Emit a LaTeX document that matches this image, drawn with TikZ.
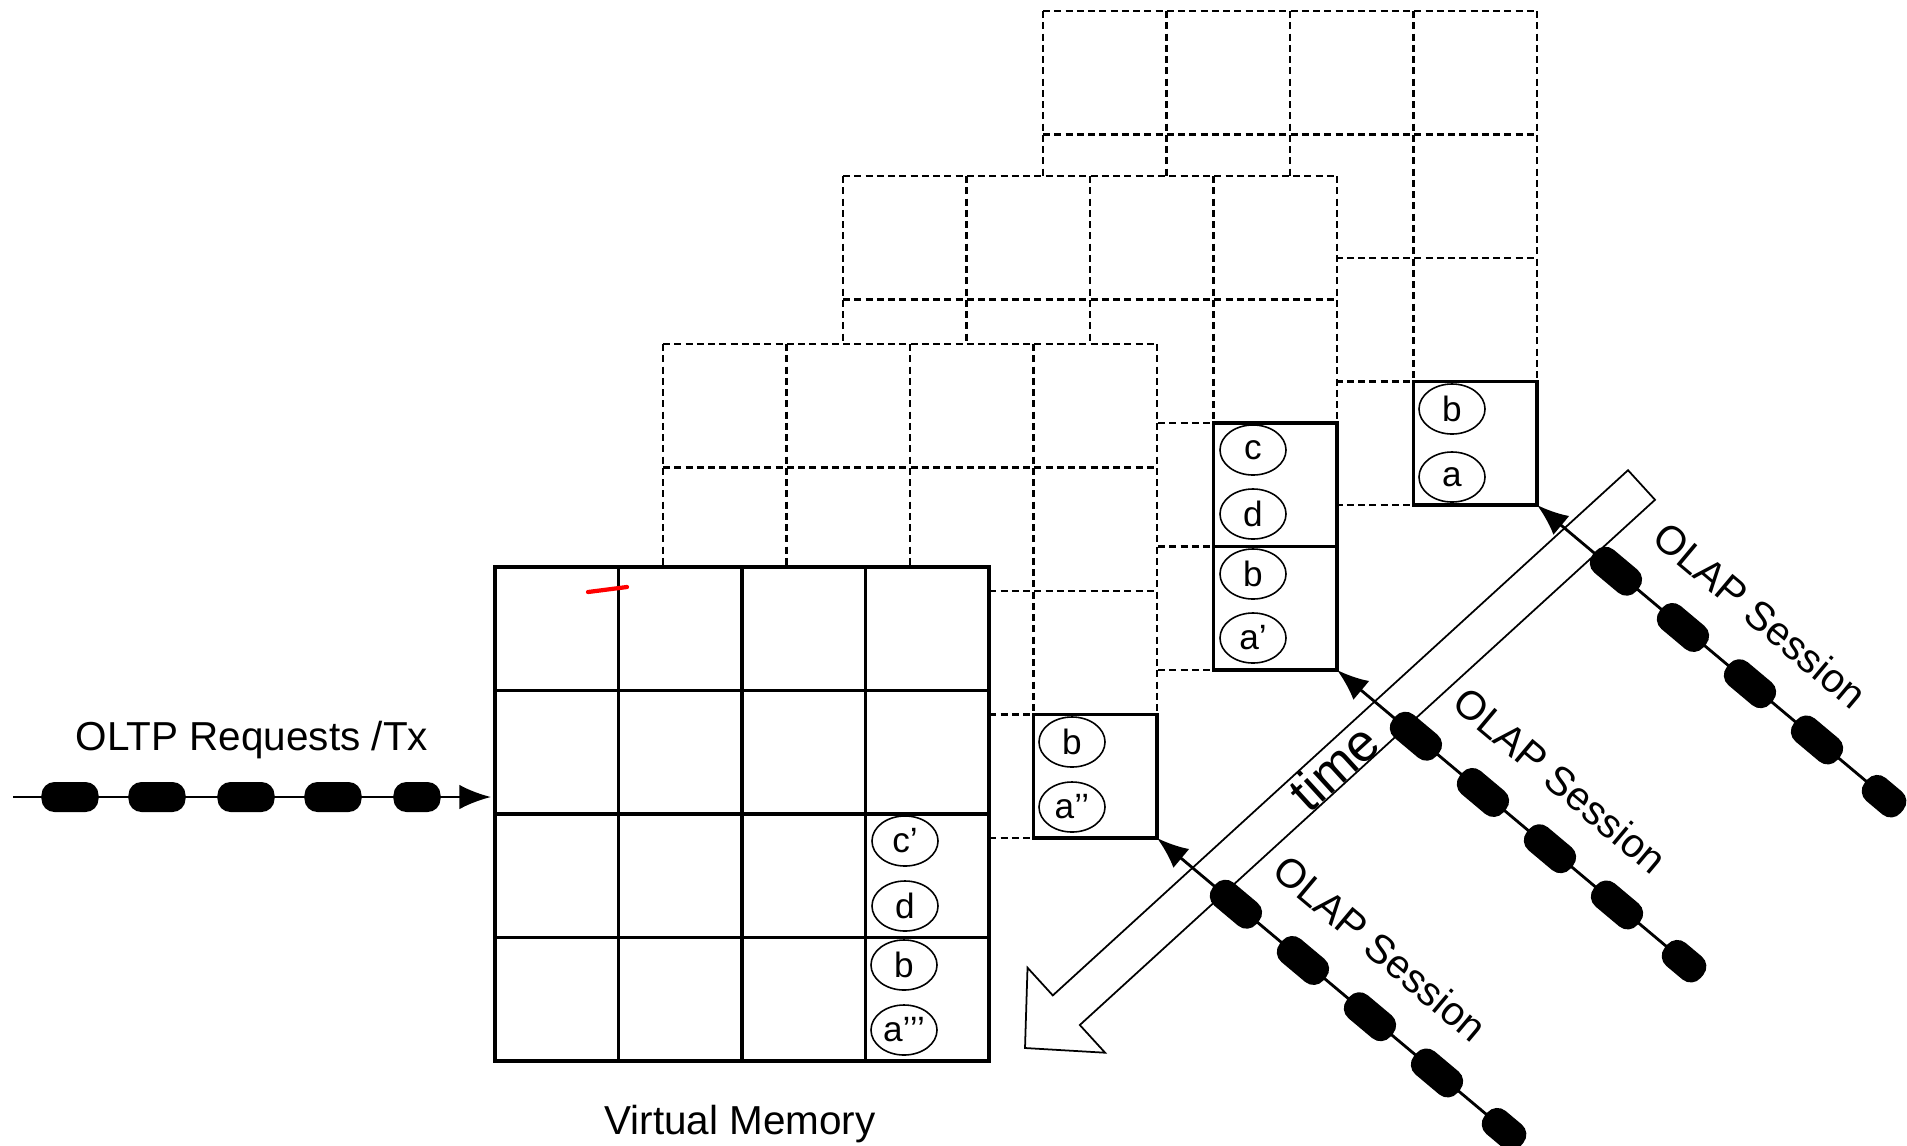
\documentclass[tikz,border=0pt]{standalone}
\usepackage{fontspec}
\setmainfont{Liberation Sans}
\usetikzlibrary{shapes.geometric,arrows.meta}

\tikzset{
  pagegrid/.style={line width=0.75pt,dash pattern=on 2pt off 1.2pt},
  pageframe/.style={line width=0.9pt,line cap=rect},
  tuple/.style={draw,ellipse,line width=0.45pt,minimum width=0.66cm,minimum height=0.5cm,inner sep=0pt,font=\fontsize{10}{12}\selectfont},
  pill/.style={fill,rounded corners=0.13cm,minimum width=0.57cm,minimum height=0.3cm,inner sep=0pt},
  stream/.style={line width=0.8pt,-{Latex[length=9pt,width=7pt]}},
  caption/.style={font=\fontsize{11.5}{14}\selectfont},
}

\begin{document}
\begin{tikzpicture}[x=0.01cm,y=-0.01cm]
\useasboundingbox (0,0) rectangle (1907,1145);

% older snapshots, back to front
\foreach \gx/\gy in {1043/11,843/176,663/344}{
  \fill[white] (\gx,\gy) rectangle ++(494,494);
  \foreach \i in {0,...,4}{
    \draw[pagegrid] (\gx+\i*123.5,\gy) -- ++(0,494);
    \draw[pagegrid] (\gx,\gy+\i*123.5) -- ++(494,0);
  }
}
\coordinate (snap2) at (1157,838);
\coordinate (snap3) at (1337,670);
\coordinate (snap4) at (1537,505);

% copied pages
\draw[pageframe] (1413.5,381.5) rectangle (snap4);
\draw[pageframe] (1213.5,423) rectangle (1337,546.5) (1213.5,546.5) rectangle (snap3);
\draw[pageframe] (1033.5,714.5) rectangle (snap2);

% current virtual memory
\fill[white] (495,567) rectangle (989,1061);
\foreach \i in {0,...,4}{
  \draw[pageframe] (495+\i*123.5,567) -- ++(0,494);
  \draw[pageframe] (495,567+\i*123.5) -- ++(494,0);
}
\draw[red,line width=1.2pt,line cap=round] (588,592) -- (627,587);

\node[tuple] (v4b) at (1452,409) {b};
\node[tuple] (v4a) at (1452,477) {a};
\node[tuple] (v3c) at (1253,450) {c};
\node[tuple] (v3d) at (1253,514) {d};
\node[tuple] (v3b) at (1253,574) {b};
\node[tuple] (v3a) at (1253,638) {a’};
\node[tuple] (v2b) at (1072,742) {b};
\node[tuple] (v2a) at (1072,807) {a’’};
\node[tuple] (v1c) at (905,841) {c’};
\node[tuple] (v1d) at (905,906) {d};
\node[tuple] (v1b) at (904,965) {b};
\node[tuple] (v1a) at (904,1030) {a’’’};

% time arrow
\draw[line width=0.5pt,fill=white] (1628,470.2) -- (1052.8,995.4) -- (1027.5,967.7) -- (1025,1048)
  -- (1105.1,1052.7) -- (1079.8,1025) -- (1655,499.8) -- cycle;
\node[rotate=42.4,font=\fontsize{15}{18}\selectfont,inner sep=0pt] (time) at (1334,767) {time};

% OLTP stream
\coordinate (txin) at (13,797);
\coordinate (vmin) at (491,797);
\draw[stream] (txin) -- (vmin);
\foreach \x [count=\k] in {70,157,246,333}
  \node[pill] (tx\k) at (\x,797) {};
\node[pill,minimum width=0.47cm] (tx5) at (417,797) {};
\node[caption,anchor=base] (oltp) at (252,750) {OLTP Requests /Tx};
\node[caption,anchor=base] (vmem) at (740,1134) {Virtual Memory};

% OLAP sessions
\foreach \s in {2,3,4}{
  \path (snap\s) ++(40:453) coordinate (olap\s);
  \draw[stream] (olap\s) -- (snap\s);
  \foreach \d [count=\k] in {103,190.5,278,365.5}
    \path (snap\s) ++(40:\d) node[pill,rotate=-40] (olap\s-\k) {};
  \path (snap\s) ++(40:453) node[pill,rotate=-40,minimum width=0.47cm] (olap\s-5) {};
  \path (snap\s) ++(40:242) ++(-50:59) node[caption,rotate=-40] (olap\s-lab) {OLAP Session};
}
\end{tikzpicture}
\end{document}
